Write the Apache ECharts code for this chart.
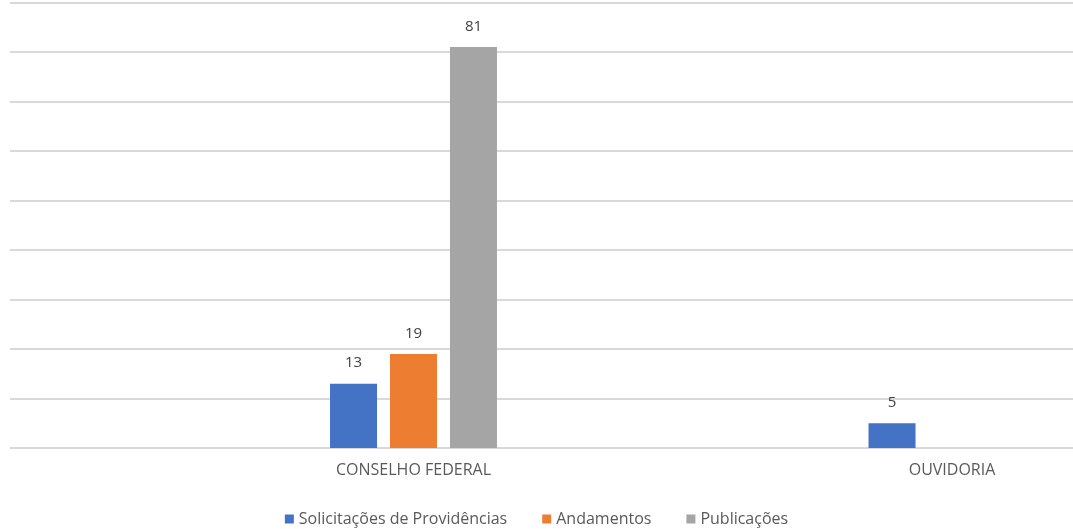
<!DOCTYPE html>
<html><head><meta charset="utf-8">
<script src="https://cdn.jsdelivr.net/npm/echarts@6/dist/echarts.min.js"></script>
<style>html,body{margin:0;padding:0;background:#fff}#c{width:1073px;height:529px}</style>
</head><body><div id="c"></div>
<script>
const categories = ['CONSELHO FEDERAL', 'OUVIDORIA'];
const solicitacoes = [13, 5];
const andamentos = [19, null];
const publicacoes = [81, null];
const seriesNames = ['Solicitações de Providências', 'Andamentos', 'Publicações'];
const colors = ['#4472C4', '#ED7D31', '#A5A5A5'];

const font = '"Open Sans", "Noto Sans", sans-serif';
const chart = echarts.init(document.getElementById('c'));
const lbl = {show: true, position: 'top', color: '#404040', fontSize: 15, fontFamily: font, distance: 13};
chart.setOption({
  animation: false,
  color: colors,
  legend: {
    bottom: 2, left: 'center', itemWidth: 9, itemHeight: 9, itemGap: 35, icon: 'rect', padding: 0,
    textStyle: {color: '#595959', fontSize: 16, fontFamily: font},
    data: seriesNames
  },
  grid: [
    {left: 10, right: 0, top: 2.5, bottom: 81, containLabel: false, outerBoundsMode: 'none'},
    {left: 144.25, width: 1077, top: 2.5, bottom: 81, containLabel: false, outerBoundsMode: 'none'}
  ],
  xAxis: [
    {gridIndex: 0, type: 'category', data: categories, show: false},
    {gridIndex: 1, type: 'category', data: categories,
     axisLine: {show: false}, axisTick: {show: false},
     axisLabel: {color: '#595959', fontSize: 16, fontFamily: font, margin: 14}}
  ],
  yAxis: [
    {gridIndex: 0, type: 'value', min: 0, max: 90, interval: 10,
     axisLabel: {show: false}, axisLine: {show: false}, axisTick: {show: false},
     splitLine: {lineStyle: {color: '#D9D9D9', width: 2}}},
    {gridIndex: 1, type: 'value', min: 0, max: 90, interval: 10, show: false,
     splitLine: {show: false}}
  ],
  series: [
    {name: seriesNames[0], type: 'bar', xAxisIndex: 1, yAxisIndex: 1, data: solicitacoes, barWidth: 47, barGap: '27.6%', label: lbl},
    {name: seriesNames[1], type: 'bar', xAxisIndex: 1, yAxisIndex: 1, data: andamentos, barWidth: 47, barGap: '27.6%', label: lbl},
    {name: seriesNames[2], type: 'bar', xAxisIndex: 1, yAxisIndex: 1, data: publicacoes, barWidth: 47, barGap: '27.6%', label: lbl}
  ]
});
</script></body></html>
